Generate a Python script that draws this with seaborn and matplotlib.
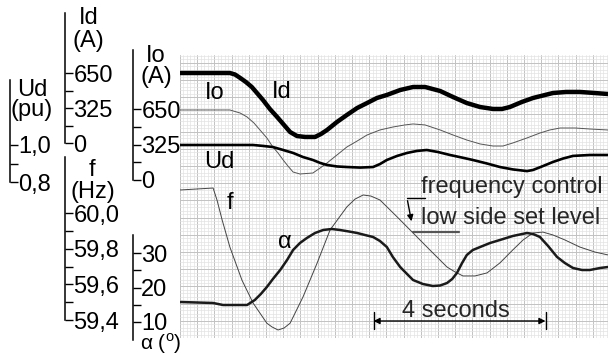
import matplotlib
matplotlib.use("Agg")
import matplotlib.pyplot as plt
import seaborn as sns
from matplotlib.lines import Line2D

# ---------------- data (read from the recording) ----------------
# DC current Id (A)
t_id = [0, 1.16, 1.28, 1.40, 1.53, 1.67, 1.81, 1.93, 2.09, 2.26, 2.42, 2.56, 2.72, 2.91,
        3.14, 3.28, 3.42, 3.65, 3.88, 4.12, 4.35, 4.58, 4.81, 5.12, 5.42, 5.70, 6.05,
        6.35, 6.67, 6.98, 7.28, 7.49, 7.67, 7.95, 8.21, 8.49, 8.67, 8.98, 9.30, 9.65, 9.95]
id_amp = [650, 650, 636, 604, 567, 520, 455, 399, 316, 241, 167, 102, 65, 56,
          56, 84, 121, 195, 260, 325, 371, 418, 446, 492, 520, 520, 483,
          427, 371, 334, 316, 316, 334, 381, 418, 446, 464, 474, 474, 464, 455]
# Io current (A)
t_io = [0, 1.16, 1.40, 1.56, 1.72, 1.86, 2.02, 2.16, 2.28, 2.40, 2.51, 2.63, 2.79,
        3.09, 3.26, 3.42, 3.65, 3.88, 4.12, 4.35, 4.65, 4.95, 5.23, 5.42, 5.70, 6.05,
        6.35, 6.67, 6.98, 7.28, 7.51, 7.74, 8.07, 8.37, 8.60, 8.84, 9.19, 9.53, 9.95]
io_amp = [641, 641, 613, 577, 522, 458, 385, 302, 247, 183, 128, 73, 55,
          64, 110, 156, 229, 302, 357, 412, 458, 485, 504, 513, 504, 458,
          412, 366, 330, 311, 311, 339, 385, 430, 458, 476, 476, 467, 458]
# DC voltage Ud (pu)
t_ud = [0, 1.70, 1.93, 2.16, 2.40, 2.63, 2.86, 3.09, 3.26, 3.42, 3.65, 3.88, 4.19,
        4.49, 4.65, 4.81, 5.05, 5.28, 5.51, 5.74, 6.00, 6.28, 6.56, 6.81, 7.14, 7.44,
        7.74, 8.07, 8.21, 8.44, 8.67, 8.91, 9.14, 9.53, 9.95]
ud_pu = [1.000, 1.000, 0.995, 0.989, 0.973, 0.957, 0.935, 0.919, 0.903, 0.892, 0.884,
         0.881, 0.878, 0.881, 0.897, 0.919, 0.941, 0.957, 0.968, 0.973, 0.962, 0.946,
         0.932, 0.919, 0.900, 0.881, 0.868, 0.859, 0.865, 0.886, 0.908, 0.927, 0.941,
         0.946, 0.946]
# frequency f (Hz)
t_f = [0, 0.77, 0.86, 0.98, 1.16, 1.44, 1.70, 2.02, 2.14, 2.28, 2.42, 2.56, 2.86,
       3.19, 3.49, 3.88, 4.07, 4.26, 4.44, 4.65, 5.05, 5.42, 5.81, 6.21, 6.40, 6.58,
       6.86, 7.14, 7.44, 7.74, 7.98, 8.21, 8.44, 8.67, 8.95, 9.30, 9.65, 9.95]
f_hz = [60.129, 60.140, 60.073, 59.961, 59.809, 59.624, 59.495, 59.382, 59.361,
        59.344, 59.355, 59.382, 59.529, 59.720, 59.905, 60.034, 60.078, 60.101,
        60.095, 60.073, 59.978, 59.888, 59.793, 59.697, 59.669, 59.647, 59.647,
        59.664, 59.720, 59.793, 59.849, 59.888, 59.893, 59.877, 59.849, 59.809,
        59.781, 59.765]
# firing angle alpha (deg)
t_alpha = [0, 0.77, 1.00, 1.56, 1.74, 1.88, 2.02, 2.16, 2.33, 2.49, 2.63, 2.79, 2.95,
           3.14, 3.33, 3.53, 3.72, 3.93, 4.12, 4.30, 4.49, 4.65, 4.81, 4.95, 5.12,
           5.28, 5.42, 5.65, 5.88, 6.05, 6.21, 6.33, 6.44, 6.56, 6.67, 6.81, 6.98,
           7.21, 7.44, 7.74, 8.07, 8.21, 8.37, 8.56, 8.77, 8.95, 9.14, 9.35, 9.53,
           9.77, 9.95]
alpha_deg = [15.80, 15.51, 14.93, 14.93, 16.38, 18.12, 20.14, 22.46, 25.07, 27.97,
             30.87, 32.90, 34.35, 35.80, 36.67, 36.96, 36.67, 36.23, 35.80, 35.22,
             34.64, 33.48, 31.74, 28.84, 25.94, 23.91, 22.17, 21.01, 20.43, 20.58,
             21.30, 22.46, 24.20, 27.10, 29.42, 30.87, 31.74, 32.90, 33.77, 34.93,
             35.80, 35.51, 34.64, 32.03, 28.84, 27.10, 25.65, 25.07, 25.07, 25.65,
             25.94]

# scale ticks
id_ticks = [0, 325, 650]
id_labels = ["0", "325", "650"]
io_ticks = [0, 325, 650]
io_labels = ["0", "325", "650"]
ud_ticks = [0.8, 1.0]
ud_labels = ["0,8", "1,0"]
f_ticks = [59.4, 59.6, 59.8, 60.0]
f_labels = ["59,4", "59,6", "59,8", "60,0"]
alpha_ticks = [10, 20, 30]
alpha_labels = ["10", "20", "30"]

# ---------------- style ----------------
sns.set_theme(style="white")
plt.rcParams["font.family"] = ["Liberation Sans", "DejaVu Sans"]
plt.rcParams["mathtext.fontset"] = "custom"
plt.rcParams["mathtext.rm"] = "Liberation Sans"
FS = 17

W, H = 615, 356
fig = plt.figure(figsize=(W / 100, H / 100), dpi=100)
GX0, GX1, GY0, GY1 = 180, 608, 55, 338       # recorder paper box (px)
PX_PER_S = 43.0
rect = [GX0 / W, 1 - GY1 / H, (GX1 - GX0) / W, (GY1 - GY0) / H]
XMAX = (GX1 - GX0) / PX_PER_S


def px(x, y):
    return (x / W, 1 - y / H)


# recorder paper grid
base = fig.add_axes(rect)
base.set_xlim(0, XMAX)
base.set_ylim(0, (GY1 - GY0) / PX_PER_S)
base.xaxis.set_major_locator(matplotlib.ticker.MultipleLocator(0.4))
base.xaxis.set_minor_locator(matplotlib.ticker.MultipleLocator(0.08))
base.yaxis.set_major_locator(matplotlib.ticker.MultipleLocator(0.4))
base.yaxis.set_minor_locator(matplotlib.ticker.MultipleLocator(0.08))
base.grid(which="minor", color="#e3e3e3", lw=0.5)
base.grid(which="major", color="#c2c2c2", lw=0.7)
base.tick_params(which="both", length=0, labelleft=False, labelbottom=False)
for s in base.spines.values():
    s.set_visible(False)
base.set_facecolor("white")


def quantity_axes(v_ref, px_ref, per_px):
    ax = fig.add_axes(rect)
    ax.patch.set_visible(False)
    for s in ax.spines.values():
        s.set_visible(False)
    lim = (v_ref - (GY1 - px_ref) * per_px, v_ref + (px_ref - GY0) * per_px)
    conv = lambda y: v_ref + (px_ref - y) * per_px
    return ax, lim, conv


def draw(ax, lim, t, v, lw, color):
    sns.lineplot(x=t, y=v, ax=ax, color=color, linewidth=lw, estimator=None)
    ax.set_xlim(0, XMAX)
    ax.set_ylim(*lim)
    ax.set_xlabel("")
    ax.set_ylabel("")
    ax.tick_params(axis="x", bottom=False, labelbottom=False)
    ax.tick_params(axis="y", left=False, labelleft=False)


def scale(ax, conv, x_px, top_px, bot_px, ticks, labels):
    sp = ax.spines["left"]
    sp.set_visible(True)
    sp.set_color("black")
    sp.set_linewidth(1.1)
    sp.set_position(("outward", (GX0 - x_px) * 0.72))
    sp.set_bounds(conv(bot_px), conv(top_px))
    minors = [(a + b) / 2 for a, b in zip(ticks[:-1], ticks[1:])]
    ax.set_yticks(ticks, labels=labels, ha="left")
    ax.set_yticks(minors, minor=True)
    ax.tick_params(axis="y", which="both", left=True, direction="in",
                   length=5.5, width=1.0, color="black")
    ax.tick_params(axis="y", which="major", labelleft=True, pad=-6,
                   labelsize=FS, labelcolor="black")


ax_id, lim_id, c_id = quantity_axes(0, 143, 650 / 70)
draw(ax_id, lim_id, t_id, id_amp, 3.2, "black")
scale(ax_id, c_id, 65, 13, 143, id_ticks, id_labels)

ax_io, lim_io, c_io = quantity_axes(0, 180, 650 / 71)
draw(ax_io, lim_io, t_io, io_amp, 0.7, "#555555")
scale(ax_io, c_io, 133, 50, 180, io_ticks, io_labels)

ax_ud, lim_ud, c_ud = quantity_axes(1.0, 145, 0.2 / 37)
draw(ax_ud, lim_ud, t_ud, ud_pu, 1.9, "black")
scale(ax_ud, c_ud, 10, 80, 182, ud_ticks, ud_labels)

ax_f, lim_f, c_f = quantity_axes(60.0, 213, 0.6 / 107)
draw(ax_f, lim_f, t_f, f_hz, 0.7, "#444444")
scale(ax_f, c_f, 65, 157, 320, f_ticks, f_labels)

ax_a, lim_a, c_a = quantity_axes(10, 322, 20 / 69)
draw(ax_a, lim_a, t_alpha, alpha_deg, 1.8, "#1a1a1a")
scale(ax_a, c_a, 133, 235, 340, alpha_ticks, alpha_labels)

# scale captions
for s, x, y in [("Id", 89, 18), ("(A)", 88, 41), ("Ud", 32, 90), ("(pu)", 32, 110),
                ("Io", 156, 56), ("(A)", 156, 77), ("f", 92, 170), ("(Hz)", 93, 192)]:
    fig.text(*px(x, y), s, ha="center", va="center", fontsize=FS, color="black")
fig.text(*px(161, 344), r"α ($^{\mathrm{o}}$)", ha="center", va="center",
         fontsize=15, color="black")

# trace names
for s, x, y in [("Io", 215, 93), ("Id", 282, 92), ("Ud", 219, 162), ("f", 230, 203),
                ("α", 285, 242)]:
    fig.text(*px(x, y), s, ha="center", va="center", fontsize=FS, color="black")

fig.text(*px(421, 193), "frequency control", ha="left", va="baseline", fontsize=FS)
fig.text(*px(421, 224), "low side set level", ha="left", va="baseline", fontsize=FS)
fig.add_artist(Line2D([407 / W, 425 / W], [1 - 198 / H, 1 - 198 / H], color="black", lw=1.0))
fig.add_artist(Line2D([413 / W, 459 / W], [1 - 232 / H, 1 - 232 / H], color="#555555", lw=1.6))
fig.patches.append(matplotlib.patches.FancyArrowPatch(
    px(407, 198), px(412, 224), transform=fig.transFigure, figure=fig,
    arrowstyle="-|>", mutation_scale=9, lw=1.0, color="black"))

# 4 seconds marker (base axes data coordinates: seconds)
T0, TLEN = 4.5, 4.0
yb = (GY1 - 321) / PX_PER_S
base.annotate("", xy=(T0, yb), xytext=(T0 + TLEN, yb),
              arrowprops=dict(arrowstyle="<|-|>", lw=1.0, color="black",
                              mutation_scale=9, shrinkA=0, shrinkB=0))
for tt in (T0, T0 + TLEN):
    base.plot([tt, tt], [(GY1 - 329) / PX_PER_S, (GY1 - 312) / PX_PER_S],
              color="black", lw=1.0)
fig.text(*px(402, 317), "4 seconds", ha="left", va="baseline", fontsize=FS)

fig.savefig("out.png", dpi=100, facecolor="white")
